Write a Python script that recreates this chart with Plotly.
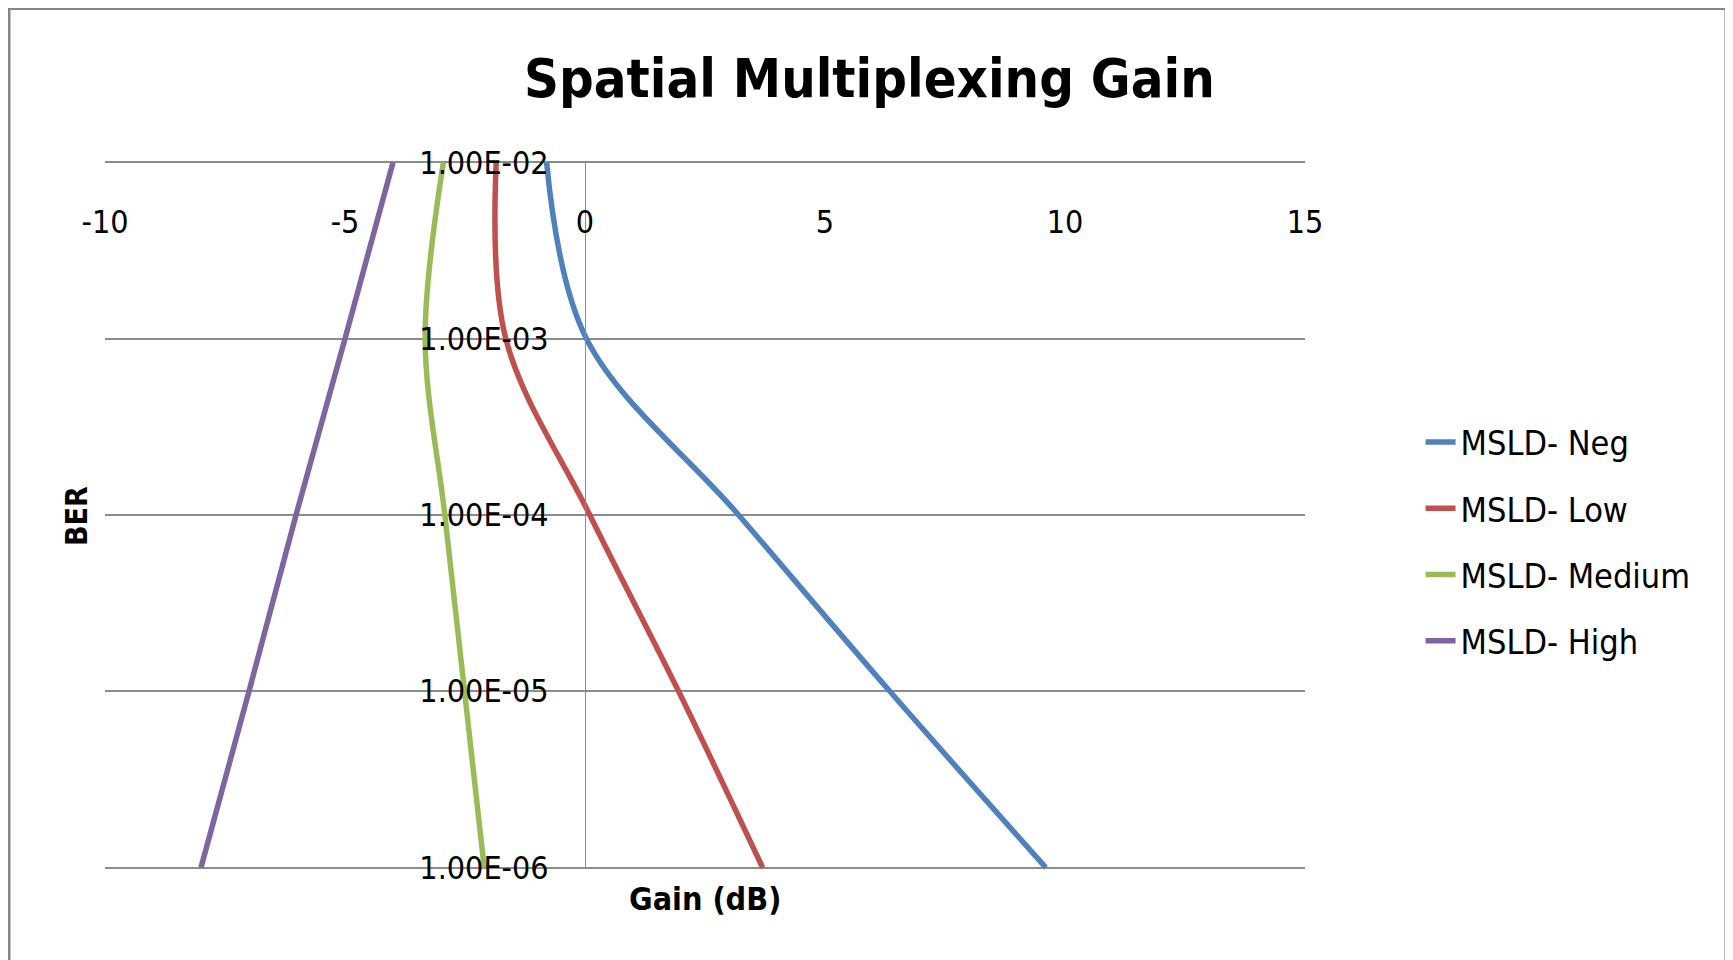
import plotly.graph_objects as go

# ---- data ----
ber = [1e-2, 1e-3, 1e-4, 1e-5, 1e-6]
gain_neg = [-0.8, 0.03, 3.2, 6.35, 9.6]
gain_low = [-1.85, -1.65, 0.1, 1.95, 3.7]
gain_medium = [-2.95, -3.33, -2.92, -2.51, -2.1]
gain_high = [-4.0, -5.0, -6.02, -7.0, -8.0]

series_names = ["MSLD- Neg", "MSLD- Low", "MSLD- Medium", "MSLD- High"]
series_values = [gain_neg, gain_low, gain_medium, gain_high]
series_colors = ["#4F81BD", "#C0504D", "#9BBB59", "#8064A2"]

x_tick_vals = [-10, -5, 0, 5, 10, 15]
x_tick_text = ["-10", "-5", "0", "5", "10", "15"]
y_tick_vals = [1e-2, 1e-3, 1e-4, 1e-5, 1e-6]
y_tick_text = ["1.00E-02", "1.00E-03", "1.00E-04", "1.00E-05", "1.00E-06"]

FONT = "Liberation Sans Narrow, DejaVu Sans Condensed, Arial Narrow, sans-serif"

fig = go.Figure()
for i, (name, vals, col) in enumerate(zip(series_names, series_values, series_colors)):
    fig.add_trace(go.Scatter(
        x=vals, y=ber, mode="lines", name=name,
        line=dict(color=col, width=5.5, shape="spline", smoothing=1),
        legendgroup=f"g{i}", cliponaxis=False,
    ))

fig.update_layout(
    width=1725, height=952,
    margin=dict(l=97, r=428, t=153, b=91),
    paper_bgcolor="white", plot_bgcolor="white",
    font=dict(family=FONT, size=32, color="black"),
    title=dict(text="<b>Spatial Multiplexing Gain</b>", font=dict(family=FONT, size=54, color="black"),
               xref="paper", x=0.637, xanchor="center", yref="container", y=0.926, yanchor="middle"),
    showlegend=True,
    legend=dict(x=1.0963, xanchor="left", y=0.6434, yanchor="top", font=dict(family=FONT, size=34),
                tracegroupgap=19, bgcolor="rgba(0,0,0,0)"),
    xaxis=dict(range=[-10, 15], showgrid=False, zeroline=False, showline=False,
               tickmode="array", tickvals=x_tick_vals, ticktext=x_tick_text,
               anchor="free", position=0.945, side="bottom", ticks="",
               tickfont=dict(family=FONT, size=32)),
    yaxis=dict(type="log", range=[-6.008, -1.992], showgrid=True, gridcolor="#8c8c8c", gridwidth=1.5,
               zeroline=False, showline=True, linecolor="#8c8c8c", linewidth=1,
               tickmode="array", tickvals=y_tick_vals, ticktext=y_tick_text,
               anchor="free", position=0.4, ticks="", ticklabelstandoff=30,
               tickfont=dict(family=FONT, size=32)),
)

fig.add_annotation(text="<b>BER</b>", xref="paper", yref="paper", x=-0.0233, y=0.4986,
                   textangle=-90, showarrow=False, font=dict(family=FONT, size=30),
                   xanchor="center", yanchor="middle")
fig.add_annotation(text="<b>Gain (dB)</b>", xref="paper", yref="paper", x=0.5, y=-0.042,
                   showarrow=False, font=dict(family=FONT, size=32),
                   xanchor="center", yanchor="middle")

fig.add_shape(type="rect", xref="paper", yref="paper", x0=-0.08, x1=1.3508, y0=-0.2, y1=1.2155,
              line=dict(color="#868686", width=3), fillcolor="rgba(0,0,0,0)", layer="below")

fig.write_html("out.html")
